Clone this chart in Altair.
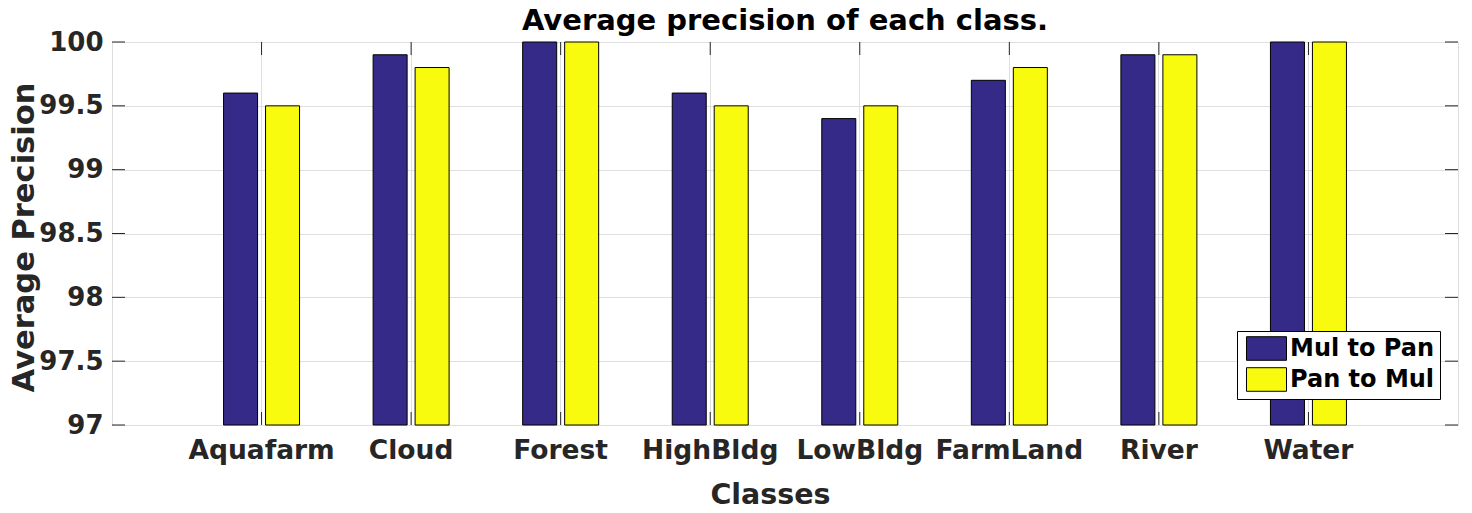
import altair as alt
import pandas as pd

classes = ["Aquafarm", "Cloud", "Forest", "HighBldg", "LowBldg", "FarmLand", "River", "Water"]
mul_to_pan = [99.6, 99.9, 100.0, 99.6, 99.4, 99.7, 99.9, 100.0]
pan_to_mul = [99.5, 99.8, 100.0, 99.5, 99.5, 99.8, 99.9, 100.0]
series = ["Mul to Pan", "Pan to Mul"]
colors = ["#352a87", "#f9fb0e"]
y_ticks = [97, 97.5, 98, 98.5, 99, 99.5, 100]
title_text = "Average precision of each class."

rows = []
for c, a, b in zip(classes, mul_to_pan, pan_to_mul):
    rows.append({"Class": c, "Series": series[0], "AP": a})
    rows.append({"Class": c, "Series": series[1], "AP": b})
df = pd.DataFrame(rows)
cat_df = pd.DataFrame({"Class": classes})
tick_df = pd.DataFrame({"v": y_ticks})
title_df = pd.DataFrame({"t": [title_text]})

W, H = 1346, 383
FONT = "DejaVu Sans"
TXT = "#262626"

xscale = alt.Scale(domain=classes, paddingInner=0, paddingOuter=0.5)
yscale = alt.Scale(domain=[97, 100], zero=False, nice=False)

x_enc = alt.X(
    "Class:N", sort=classes, scale=xscale,
    axis=alt.Axis(
        title="Classes", titleFont=FONT, titleFontSize=28.5, titleFontWeight="bold",
        titleColor=TXT, titleBaseline="alphabetic", titleY=78, titleX=658,
        titleAlign="center",
        labelFont=FONT, labelFontSize=26.5, labelFontWeight="bold", labelColor=TXT,
        labelAngle=0, labelBaseline="alphabetic", labelPadding=33,
        labelOverlap=False, labelBound=False,
        ticks=False, domain=False, grid=True, gridColor="#dfdfdf", gridWidth=1,
        bandPosition=0.5,
    ),
)
y_enc = alt.Y(
    "AP:Q", scale=yscale,
    axis=alt.Axis(
        values=y_ticks, format=".1~f",
        title="Average Precision", titleFont=FONT, titleFontSize=30.5,
        titleFontWeight="bold", titleColor=TXT, titleAngle=-90,
        titleBaseline="alphabetic", titleAlign="center", titleX=-79, titleY=195,
        labelFont=FONT, labelFontSize=26, labelFontWeight="bold", labelColor=TXT,
        labelPadding=9, labelBaseline="middle",
        ticks=False, domain=False, grid=True, gridColor="#dfdfdf", gridWidth=1,
    ),
)

bars = alt.Chart(df).mark_bar(stroke="black", strokeWidth=1).encode(
    x=x_enc,
    xOffset=alt.XOffset(
        "Series:N", sort=series,
        scale=alt.Scale(domain=series, paddingInner=0.19, paddingOuter=0.876),
    ),
    y=y_enc,
    y2=alt.datum(97),
    color=alt.Color(
        "Series:N", sort=series,
        scale=alt.Scale(domain=series, range=colors),
        legend=alt.Legend(
            title=None, orient="none", legendX=1125, legendY=289,
            direction="vertical",
            fillColor="white", strokeColor="black", padding=5,
            symbolType="M-1.667,-0.983L1.667,-0.983L1.667,0.983L-1.667,0.983Z",
            symbolSize=576, symbolOffset=12,
            symbolStrokeColor="black", symbolStrokeWidth=1, symbolOpacity=1,
            labelFont=FONT, labelFontSize=24, labelFontWeight="bold",
            labelColor="black", labelOffset=11, rowPadding=2,
        ),
    ),
)

tick_color = TXT
left_ticks = alt.Chart(tick_df).mark_rule(color=tick_color, strokeWidth=1).encode(
    y=alt.Y("v:Q", scale=yscale), x=alt.value(0), x2=alt.value(13)
)
right_ticks = alt.Chart(tick_df).mark_rule(color=tick_color, strokeWidth=1).encode(
    y=alt.Y("v:Q", scale=yscale), x=alt.value(W - 13), x2=alt.value(W)
)
bottom_ticks = alt.Chart(cat_df).mark_rule(color=tick_color, strokeWidth=1).encode(
    x=alt.X("Class:N", sort=classes, scale=xscale), y=alt.value(H - 13), y2=alt.value(H)
)
top_ticks = alt.Chart(cat_df).mark_rule(color=tick_color, strokeWidth=1).encode(
    x=alt.X("Class:N", sort=classes, scale=xscale), y=alt.value(0), y2=alt.value(13)
)
title_mark = alt.Chart(title_df).mark_text(
    font=FONT, fontSize=29, fontWeight="bold", color="black",
    align="center", baseline="alphabetic",
).encode(text="t:N", x=alt.value(W / 2), y=alt.value(-12))

chart = alt.layer(
    bars, left_ticks, right_ticks, bottom_ticks, top_ticks, title_mark
).properties(
    width=W, height=H,
    autosize=alt.AutoSizeParams(type="none"),
    padding={"left": 104, "top": 34, "right": 4, "bottom": 80},
).configure_view(stroke=TXT, strokeWidth=1).configure(background="white")

chart.save("out.html", embed_options={"renderer": "svg", "actions": False})
